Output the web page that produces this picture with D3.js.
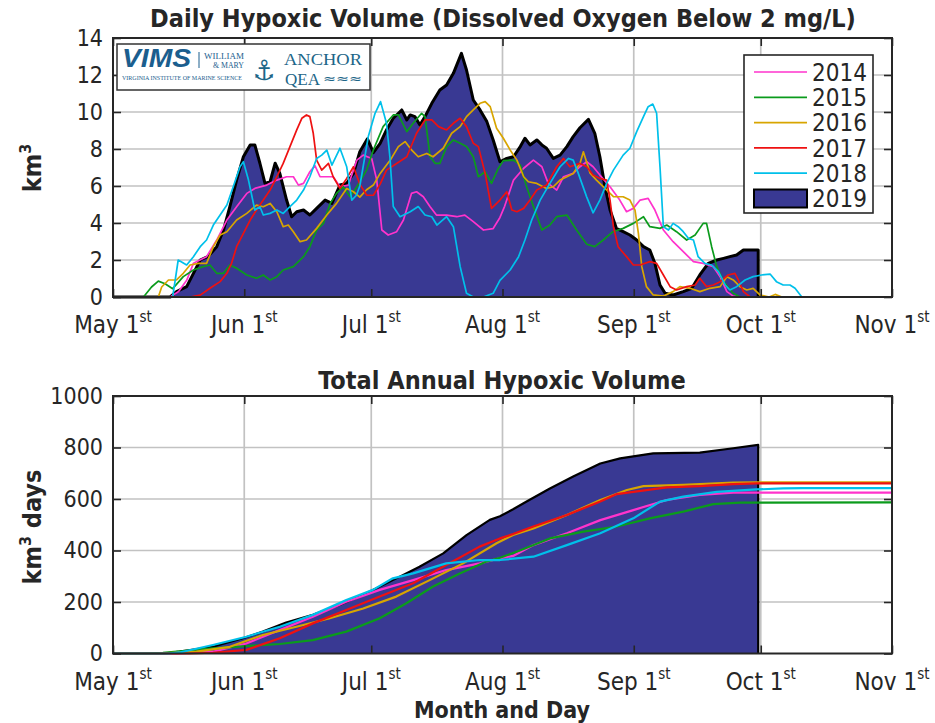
<!DOCTYPE html>
<html lang="en">

<head>
    <meta charset="UTF-8">
    <title>Daily and total hypoxic volume</title>
    <script src="https://d3js.org/d3.v7.min.js"></script>
    <style>
        body {
            margin: 0;
            background-color: #fff;
        }

        svg text {
            font-family: "DejaVu Sans Condensed", "Liberation Sans Narrow", "DejaVu Sans", sans-serif;
            font-stretch: condensed;
            fill: #262626;
        }

        .grid line {
            stroke: #c2c2c2;
            stroke-width: 1.7px;
        }

        .tick line {
            stroke: #262626;
            stroke-width: 1.6px;
        }

        .frame {
            fill: none;
            stroke: #262626;
            stroke-width: 2px;
        }

        .title {
            font-weight: bold;
            font-size: 25px;
        }
    </style>
</head>

<body>
    <svg id="chart" width="935" height="723"></svg>
    <script>
        // ---- data (x = days after May 1st) ----
        var years = ["2014", "2015", "2016", "2017", "2018"];
        var yearColors = ["#ff33cc", "#0b9b1c", "#d8a500", "#ee1111", "#00c0ea"];
        var fill2019 = "#393993";

        var monthNames = ["May", "Jun", "Jul", "Aug", "Sep", "Oct", "Nov"];
        var monthDays = [0, 31, 61, 92, 123, 153, 184];
        var dailyTicks = [0, 2, 4, 6, 8, 10, 12, 14];
        var totalTicks = [0, 200, 400, 600, 800, 1000];

        var daily2014 = [[0, 0], [13.5, 0], [15.5, 0.3], [17.4, 0.9], [19, 1.82], [22.1, 2.18], [24.5, 3.08], [26.9, 4.16], [29.2, 4.88], [31.6, 5.6], [33.5, 5.87], [36.3, 6.05], [38.7, 6.32], [41, 6.5], [42.6, 6.5], [43.8, 6.05], [45, 6.14], [46.5, 6.77], [47.7, 7.1], [48.9, 6.5], [52, 6.5], [53.6, 5.96], [55.6, 6.05], [57.6, 7.4], [59.1, 7.67], [61.1, 7.49], [62.3, 6.32], [63.5, 3.62], [65, 3.35], [67, 3.53], [68.6, 4.16], [70.5, 5.6], [71.7, 5.69], [73.3, 5.42], [74.9, 4.88], [76.4, 4.43], [78.8, 4.43], [81.2, 4.34], [83.1, 4.43], [85.1, 4.07], [87.5, 3.62], [89.8, 3.7], [91.4, 4.3], [92.5, 4.9], [94.6, 6.32], [97, 6.96], [99.3, 7.4], [101.3, 7.04], [102.8, 6.14], [104.8, 5.78], [106.4, 6.5], [108.7, 6.68], [110.3, 7.04], [111.9, 7.31], [113.4, 7.04], [115, 6.59], [117.4, 5.96], [119.7, 5.24], [121.3, 4.61], [122.9, 4.79], [124.5, 5.24], [126.4, 5.33], [128, 4.7], [130, 3.62], [132.3, 2.99], [134.7, 2.45], [137.1, 1.91], [139.4, 1.82], [141.8, 1.64], [143.4, 1.1], [145, 0.29], [146.5, 0.05], [148, 0], [184, 0]];
        var daily2015 = [[0, 0], [7.2, 0], [9.1, 0.54], [10.7, 0.86], [12.3, 0.72], [14.1, 0.45], [16.6, 1.1], [19, 1.46], [21.3, 1.64], [22.9, 1.73], [24.5, 1.28], [26.1, 1.28], [27.6, 1.73], [29.2, 1.55], [31.6, 1.19], [33.9, 1.01], [35.5, 1.19], [37.1, 0.92], [38.7, 1.1], [40.2, 1.46], [42.6, 1.64], [45, 2.18], [46.5, 2.72], [48.1, 3.62], [49.7, 3.98], [51.3, 5.06], [52.8, 5.6], [54.4, 5.96], [56, 5.42], [57.6, 5.96], [59.9, 6.86], [61.5, 7.95], [63.8, 9.21], [66.2, 9.84], [67.4, 9.84], [69.4, 8.94], [70.9, 9.39], [72.9, 9.93], [73.7, 9.75], [74.9, 7.58], [76.1, 7.22], [77.2, 7.22], [78.8, 8.13], [80.4, 8.49], [82, 8.31], [83.5, 8.13], [85.1, 7.58], [86.3, 6.5], [87.9, 6.77], [89.4, 6.14], [91, 6.95], [92.2, 7.37], [94.6, 7.4], [96.2, 7.13], [97.7, 5.96], [99.3, 4.89], [101.3, 3.62], [103.2, 3.89], [104.8, 4.34], [107.2, 4.43], [109.5, 3.62], [111.9, 2.85], [113.8, 2.72], [115.8, 3.08], [118.1, 3.53], [120.5, 3.71], [122.9, 3.98], [125.3, 4.34], [126.8, 3.8], [129.2, 3.71], [130.8, 3.89], [133.1, 3.53], [135.5, 3.08], [137.5, 3.35], [139.4, 3.98], [140.2, 3.98], [141.4, 2.72], [142.6, 1.64], [144.2, 0.83], [146.5, 0.2], [148.1, 0], [184, 0]];
        var daily2016 = [[0, 0], [10.7, 0], [11.5, 0.54], [13.1, 0.92], [15, 0.92], [16.6, 1.28], [18.2, 1.73], [20.2, 1.82], [22.1, 1.82], [23.7, 2.72], [25.3, 3.35], [26.9, 3.53], [29.2, 4.16], [31.6, 4.52], [33.9, 4.97], [35.5, 4.88], [37.1, 5.06], [38.7, 4.61], [40.2, 3.8], [41.4, 3.89], [42.6, 3.53], [44.2, 2.99], [45.7, 3.08], [48.1, 3.71], [50.5, 4.43], [52.8, 5.06], [55.2, 5.87], [56.8, 5.69], [58.3, 5.4], [59.9, 5.8], [61.5, 6.05], [63.1, 6.68], [65.5, 7.4], [67.4, 8.13], [69, 8.4], [70.5, 7.95], [72.1, 7.58], [74.1, 7.76], [75.6, 7.58], [78, 8.04], [80, 8.85], [82, 9.21], [83.5, 9.75], [85.1, 10.11], [86.7, 10.47], [87.9, 10.56], [89.1, 10.29], [90.6, 9.12], [92.2, 8.58], [93.8, 7.95], [95.4, 7.4], [97, 6.5], [98.1, 6.23], [100.1, 6.14], [102.4, 5.87], [104, 5.96], [105.6, 6.32], [107.2, 6.5], [108.7, 6.68], [110.3, 7.22], [111.1, 7.85], [112.7, 6.69], [114.2, 6.32], [116.2, 5.87], [118.2, 5.42], [120.5, 5.42], [122.1, 5.24], [123.3, 4.7], [124.1, 3.44], [124.9, 1.64], [126, 0.56], [127.6, 0.11], [130, 0.05], [132.3, 0.29], [133.9, 0.56], [136.3, 0.47], [138.6, 0.29], [141, 0.47], [143.4, 0.56], [145, 1.1], [146.5, 0.92], [148.1, 0.56], [149.7, 0.38], [151.2, 0.47], [152.8, 0.11], [155, 0], [156.4, 0.14], [158, 0], [184, 0]];
        var daily2017 = [[0, 0], [18.2, 0], [20.6, 0.1], [22.9, 0.47], [25.3, 0.83], [26.9, 1.28], [28, 1.82], [29.2, 2.72], [30.8, 3.44], [32.4, 4.16], [33.9, 4.7], [35.5, 5.24], [37.1, 5.78], [38.7, 6.5], [40.2, 7.22], [41.8, 8.13], [43.4, 9.03], [44.6, 9.66], [45.7, 9.84], [46.5, 9.75], [47.3, 8.85], [48.1, 7.4], [49.3, 6.86], [50.9, 7.22], [52, 6.5], [53.6, 5.87], [55.2, 6.41], [56.8, 7.04], [58.3, 6.1], [59.9, 5.51], [61.5, 5.5], [63.1, 6.1], [64.6, 6.86], [67, 7.22], [69.4, 7.58], [71.7, 8.85], [73.7, 9.57], [75.3, 9.57], [76.9, 9.21], [78.8, 9.03], [80.4, 9.39], [82, 9.66], [83.5, 9.21], [85.1, 8.31], [86.3, 8.13], [87.9, 6.68], [89.4, 4.79], [91.4, 5.24], [93, 5.69], [94.2, 4.7], [95.4, 4.61], [97, 4.79], [98.5, 5.24], [100.1, 5.78], [102.4, 6.05], [104.8, 7.04], [106.4, 7.49], [107.9, 7.04], [110.3, 7.22], [111.9, 7.04], [113.4, 6.59], [115, 6.41], [116.6, 6.32], [117.4, 5.24], [118.2, 3.8], [119.3, 2.72], [121.3, 2.18], [122.9, 1.73], [124.5, 1.73], [126.8, 1.91], [128.4, 1.82], [130, 1.19], [131.6, 0.56], [133.1, 0.38], [135.5, 0.56], [137.5, 0.65], [138.6, 1.01], [140.2, 0.56], [141.8, 0.65], [143.4, 0.83], [145.3, 1.19], [146.9, 1.28], [147.7, 0.92], [148.9, 0.29], [150.5, 0], [184, 0]];
        var daily2018 = [[0, 0], [14.1, 0], [15.4, 2.0], [17.4, 1.73], [19, 2.18], [20.6, 2.72], [22.1, 3.08], [23.7, 3.89], [25.3, 4.43], [26.9, 4.97], [28.4, 5.96], [30, 7.04], [30.8, 7.31], [32, 6.32], [33.5, 4.7], [34.7, 4.88], [35.5, 4.43], [37.1, 4.52], [38.7, 4.7], [40.2, 4.52], [41.8, 4.88], [43.4, 5.24], [45, 5.78], [46.5, 6.5], [48.1, 7.49], [49.3, 7.67], [50.5, 7.94], [51.7, 7.13], [53.6, 8.04], [55.2, 7.04], [56.4, 5.24], [57.5, 5.5], [58.3, 6.0], [60.3, 8.67], [61.9, 9.93], [63.2, 10.56], [64.6, 9.39], [65.4, 7.58], [66.2, 4.89], [67.8, 4.34], [70.2, 4.61], [72.1, 4.89], [73.7, 4.43], [75.3, 4.34], [76.5, 3.89], [78.8, 4.34], [80.4, 3.8], [82, 1.64], [83.5, 0.2], [85.1, 0], [87.5, 0], [89.8, 0.2], [91.4, 0.9], [93.8, 1.46], [95.8, 2.18], [97.3, 3.08], [98.9, 4.16], [100.9, 5.24], [103.2, 6.14], [105.6, 7.04], [107.6, 7.49], [108.7, 7.4], [109.9, 6.68], [111.9, 5.4], [113.4, 4.55], [115, 5.24], [116.6, 6.14], [118.2, 6.86], [120.5, 7.67], [122.1, 8.04], [123.7, 8.94], [125.3, 9.75], [126.4, 10.29], [127.5, 10.43], [128.4, 9.93], [129.2, 7.04], [130, 3.8], [131.2, 3.62], [132.3, 3.98], [133.5, 3.8], [134.7, 3.53], [135.9, 3.17], [137.1, 3.08], [138.2, 2.18], [139.8, 1.82], [141.4, 1.73], [143, 1.37], [144.6, 0.65], [145.7, 0.38], [147.3, 0.56], [149.3, 0.92], [151.2, 1.1], [153.2, 1.19], [155.2, 1.24], [156.7, 0.83], [158.3, 0.65], [159.9, 0.65], [161.1, 0.47], [162.7, 0], [184, 0]];
        var daily2019 = [[0, 0], [13.5, 0], [15, 0.29], [17.4, 0.56], [19, 1.28], [20.6, 2.0], [22.5, 2.2], [24.5, 2.72], [26.1, 3.62], [27.6, 4.88], [29.2, 6.32], [30.8, 7.58], [32.4, 8.22], [33.5, 8.22], [34.7, 7.23], [35.9, 6.14], [37.1, 6.23], [38.3, 7.23], [39.4, 6.68], [41, 5.24], [42.2, 4.34], [43.4, 4.61], [45, 4.7], [46.5, 4.43], [48.1, 4.79], [50.1, 5.24], [51.7, 5.06], [53.6, 6.05], [55.2, 6.14], [56.8, 6.68], [58.3, 7.85], [60.1, 8.55], [61.5, 7.8], [63.1, 8.3], [64.6, 9.03], [66.2, 9.66], [68.2, 10.11], [69.4, 9.57], [70.2, 9.84], [71.3, 9.75], [72.5, 9.3], [73.7, 9.75], [75.3, 10.47], [77.2, 11.19], [78.8, 11.46], [80.4, 12.09], [82.3, 13.17], [83.5, 12.27], [85.1, 10.65], [86.7, 10.11], [88.3, 9.48], [89.8, 8.49], [91.4, 7.31], [93, 7.49], [94.6, 7.58], [96.2, 8.13], [97.3, 8.58], [98.5, 8.22], [100.1, 8.49], [101.3, 8.22], [102.4, 8.04], [104, 7.49], [105.6, 7.67], [107.2, 8.13], [108.7, 8.67], [110.3, 9.15], [112.3, 9.6], [113.8, 8.85], [115, 7.58], [116.2, 5.96], [117.4, 4.7], [118.9, 3.71], [120.5, 3.53], [122.1, 3.35], [123.7, 3.08], [125.3, 2.72], [126.8, 2.54], [128, 1.82], [129.2, 0.65], [130.4, 0.2], [132.3, 0.11], [134.7, 0.29], [136.7, 0.47], [138.6, 1.19], [140.6, 1.82], [142.6, 2.0], [144.2, 2.09], [145.7, 2.18], [147.3, 2.27], [148.9, 2.54], [150.5, 2.54], [152.4, 2.54], [152.4, 0]];

        var total2014 = [[0, 0], [15, 0], [23.6, 7], [31.5, 39], [39.4, 91], [47.2, 143], [55.1, 201], [63, 247], [70.9, 285], [78.7, 324], [86.6, 350], [91.4, 370], [94.5, 379], [99.3, 421], [107.2, 467], [115.1, 518], [122.9, 557], [130.8, 596], [138.6, 616], [146.5, 625], [184, 625]];
        var total2015 = [[0, 0], [7, 0], [11.8, 3], [23.6, 20], [31.5, 29], [39.4, 37], [47.2, 52], [55.1, 85], [63, 137], [69.3, 195], [75.6, 260], [81.9, 311], [88.2, 357], [91.4, 372], [96.1, 400], [103.2, 447], [111.1, 473], [119, 493], [126.8, 525], [134.7, 551], [141.8, 580], [148.1, 586], [184, 587]];
        var total2016 = [[0, 0], [10.7, 0], [19.7, 7], [27.6, 26], [35.4, 72], [43.3, 104], [51.2, 137], [59.1, 175], [66.9, 221], [74.8, 285], [82.7, 350], [90.6, 428], [94.5, 460], [99.3, 486], [107.2, 538], [115.1, 596], [121.4, 635], [125.3, 650], [134.7, 655], [146.5, 664], [152, 665], [184, 665]];
        var total2017 = [[0, 0], [18, 0], [23.6, 3], [31.5, 14], [39.4, 59], [47.2, 117], [55.1, 169], [63, 221], [70.9, 273], [78.7, 344], [86.6, 415], [91.4, 447], [94.5, 464], [99.3, 493], [107.2, 538], [115.1, 590], [119, 619], [122.9, 628], [130.8, 645], [138.6, 650], [146.5, 658], [152, 661], [184, 661]];
        var total2018 = [[0, 0], [13, 0], [15.7, 4], [23.6, 33], [31.5, 65], [39.4, 104], [47.2, 150], [55.1, 208], [61.4, 247], [66.1, 292], [70.9, 311], [78.7, 350], [86.6, 363], [91.4, 363], [99.3, 376], [107.2, 421], [115.1, 467], [122.9, 525], [129.2, 590], [134.7, 609], [142.6, 628], [152, 637], [158.3, 641], [163, 642], [184, 642]];
        var total2019 = [[0, 0], [12, 0], [15.7, 7], [23.6, 26], [30.7, 59], [35.4, 85], [40.9, 120], [47.2, 150], [53.5, 188], [59.8, 234], [66.1, 285], [72.4, 337], [78, 389], [83.5, 460], [89, 519], [91.4, 533], [94.5, 560], [97.7, 590], [103.2, 641], [108.7, 687], [115.1, 738], [119.8, 758], [127.6, 777], [138.6, 780], [146.5, 797], [152.4, 810], [152.4, 0]];

        var dailyLines = [daily2014, daily2015, daily2016, daily2017, daily2018];
        var totalLines = [total2014, total2015, total2016, total2017, total2018];

        var svg = d3.select("#chart");

        var x = d3.scaleLinear().domain([0, 184]).range([113, 892]);

        function panel(top, bottom, ymax, yTicks, areaData, lineData, lineWidth, outlineWidth) {
            var y = d3.scaleLinear().domain([0, ymax]).range([bottom, top]);
            var g = svg.append("g");

            // grid
            var grid = g.append("g").attr("class", "grid");
            grid.selectAll(".vg").data(monthDays.slice(1, -1)).enter().append("line")
                .attr("x1", function (d) { return x(d); }).attr("x2", function (d) { return x(d); })
                .attr("y1", top).attr("y2", bottom);
            grid.selectAll(".hg").data(yTicks.slice(1, -1)).enter().append("line")
                .attr("x1", x(0)).attr("x2", x(184))
                .attr("y1", function (d) { return y(d); }).attr("y2", function (d) { return y(d); });

            // 2019 filled area with black outline
            var area = d3.area().x(function (d) { return x(d[0]); }).y0(y(0)).y1(function (d) { return y(d[1]); });
            var outline = d3.line().x(function (d) { return x(d[0]); }).y(function (d) { return y(d[1]); });
            g.append("path").attr("d", area(areaData)).attr("fill", fill2019);
            g.append("path").attr("d", outline(areaData)).attr("fill", "none")
                .attr("stroke", "#000").attr("stroke-width", outlineWidth).attr("stroke-linejoin", "round");

            lineData.forEach(function (data, i) {
                g.append("path").attr("d", outline(data)).attr("fill", "none")
                    .attr("stroke", yearColors[i]).attr("stroke-width", lineWidth)
                    .attr("stroke-linejoin", "round");
            });

            // ticks (inward, all four sides)
            var noLabel = function () { return ""; };
            g.append("g").attr("transform", "translate(0," + bottom + ")")
                .call(d3.axisBottom(x).tickValues(monthDays).tickSize(-8).tickFormat(noLabel));
            g.append("g").attr("transform", "translate(0," + top + ")")
                .call(d3.axisTop(x).tickValues(monthDays).tickSize(-8).tickFormat(noLabel));
            g.append("g").attr("transform", "translate(" + x(184) + ",0)")
                .call(d3.axisRight(y).tickValues(yTicks).tickSize(-8).tickFormat(noLabel));
            var yAxis = g.append("g").attr("transform", "translate(" + x(0) + ",0)")
                .call(d3.axisLeft(y).tickValues(yTicks).tickSize(-8).tickPadding(10).tickFormat(d3.format("d")));
            g.selectAll(".domain").remove();
            yAxis.selectAll("text").attr("font-size", 23).style("fill", "#262626").attr("font-family", null);

            g.append("rect").attr("class", "frame")
                .attr("x", x(0)).attr("y", top).attr("width", x(184) - x(0)).attr("height", bottom - top);

            // month labels with superscript
            var lab = g.selectAll(".mlab").data(monthDays).enter().append("text")
                .attr("x", function (d) { return x(d); }).attr("y", bottom + 36)
                .attr("text-anchor", "middle").attr("font-size", 24);
            lab.append("tspan").text(function (d, i) { return monthNames[i] + " 1"; });
            lab.append("tspan").attr("dy", -11).attr("font-size", 15).text("st");

            return y;
        }

        panel(38, 297, 14, dailyTicks, daily2019, dailyLines, 1.7, 3);
        panel(396, 653.5, 1000, totalTicks, total2019, totalLines, 2.2, 2.2);

        // titles and axis labels
        svg.append("text").attr("class", "title").attr("x", 503).attr("y", 27).attr("text-anchor", "middle")
            .text("Daily Hypoxic Volume (Dissolved Oxygen Below 2 mg/L)");
        svg.append("text").attr("class", "title").attr("x", 502).attr("y", 389).attr("text-anchor", "middle")
            .text("Total Annual Hypoxic Volume");
        svg.append("text").attr("class", "title").attr("x", 502).attr("y", 717.5).attr("text-anchor", "middle")
            .style("font-size", "23px").text("Month and Day");

        var yl1 = svg.append("text").attr("class", "title").attr("text-anchor", "middle")
            .attr("transform", "translate(41,168) rotate(-90)");
        yl1.append("tspan").text("km");
        yl1.append("tspan").attr("dy", -10).attr("font-size", 16).text("3");

        var yl2 = svg.append("text").attr("class", "title").attr("text-anchor", "middle")
            .attr("transform", "translate(41,527) rotate(-90)");
        yl2.append("tspan").text("km");
        yl2.append("tspan").attr("dy", -10).attr("font-size", 16).text("3");
        yl2.append("tspan").attr("dy", 10).text(" days");

        // legend
        var legendNames = years.concat(["2019"]);
        var legend = svg.append("g");
        legend.append("rect").attr("x", 744).attr("y", 55).attr("width", 129).attr("height", 158)
            .attr("fill", "#fff").attr("stroke", "#262626").attr("stroke-width", 1.6);
        legendNames.forEach(function (name, i) {
            var cy = 72 + i * 25.3;
            if (i < 5) {
                legend.append("line").attr("x1", 754).attr("x2", 807).attr("y1", cy).attr("y2", cy)
                    .attr("stroke", yearColors[i]).attr("stroke-width", 1.7);
            } else {
                legend.append("rect").attr("x", 754).attr("y", cy - 9).attr("width", 53).attr("height", 18)
                    .attr("fill", fill2019).attr("stroke", "#000").attr("stroke-width", 2);
            }
            legend.append("text").attr("x", 812).attr("y", cy).attr("dy", "0.36em")
                .attr("font-size", 24).text(name);
        });

        // logo box
        var logo = svg.append("g");
        logo.append("rect").attr("x", 117).attr("y", 44).attr("width", 253).attr("height", 46)
            .attr("fill", "#fff").attr("stroke", "#333").attr("stroke-width", 1.5);
        logo.append("text").attr("x", 122).attr("y", 67).attr("font-size", 25)
            .attr("font-weight", "bold").attr("font-style", "italic")
            .attr("textLength", 69).attr("lengthAdjust", "spacingAndGlyphs")
            .style("font-family", "'Liberation Sans', sans-serif").style("fill", "#1b5e8e").text("VIMS");
        logo.append("line").attr("x1", 199).attr("x2", 199).attr("y1", 52).attr("y2", 68)
            .attr("stroke", "#1b5e8e").attr("stroke-width", 1);
        logo.append("text").attr("x", 204).attr("y", 59).attr("font-size", 9)
            .attr("textLength", 40).attr("lengthAdjust", "spacingAndGlyphs")
            .style("font-family", "'Liberation Serif', serif").style("fill", "#1b5e8e").text("WILLIAM");
        logo.append("text").attr("x", 213).attr("y", 68).attr("font-size", 9)
            .attr("textLength", 31).attr("lengthAdjust", "spacingAndGlyphs")
            .style("font-family", "'Liberation Serif', serif").style("fill", "#1b5e8e").text("& MARY");
        logo.append("text").attr("x", 122).attr("y", 80).attr("font-size", 7)
            .attr("textLength", 120).attr("lengthAdjust", "spacingAndGlyphs")
            .style("font-family", "'Liberation Serif', serif").style("fill", "#1b5e8e")
            .text("VIRGINIA INSTITUTE OF MARINE SCIENCE");
        logo.append("text").attr("x", 264).attr("y", 80).attr("font-size", 28).attr("text-anchor", "middle")
            .style("font-family", "'DejaVu Sans', sans-serif").style("fill", "#1d6688").text("\u2693");
        logo.append("text").attr("x", 284).attr("y", 65).attr("font-size", 17)
            .attr("textLength", 78).attr("lengthAdjust", "spacingAndGlyphs")
            .style("font-family", "'Liberation Serif', serif").style("fill", "#1d6688").text("ANCHOR");
        logo.append("text").attr("x", 285).attr("y", 85).attr("font-size", 16)
            .attr("textLength", 35).attr("lengthAdjust", "spacingAndGlyphs")
            .style("font-family", "'Liberation Serif', serif").style("fill", "#1d6688").text("QEA");
        logo.append("text").attr("x", 323).attr("y", 83).attr("font-size", 13)
            .attr("textLength", 39).attr("lengthAdjust", "spacingAndGlyphs")
            .style("font-family", "'DejaVu Sans', sans-serif").style("fill", "#1d6688").text("\u2248\u2248\u2248");
    </script>
</body>

</html>
